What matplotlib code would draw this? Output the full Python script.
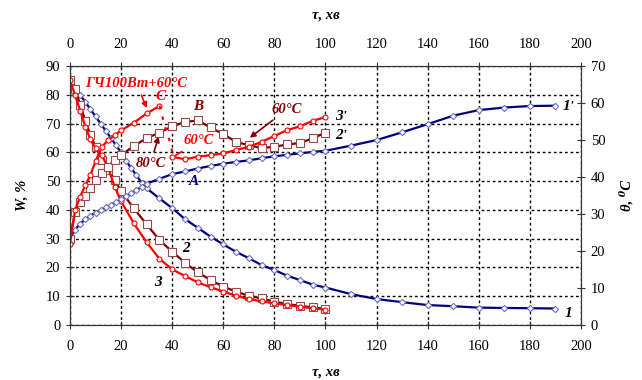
import matplotlib
matplotlib.use("Agg")
import matplotlib.pyplot as plt

plt.rcParams["font.family"] = ["Liberation Serif", "DejaVu Serif"]

# curve 1 - moisture W, %, and 1' - temperature, °C
t1 = [0, 2, 4, 6, 8, 10, 12, 14, 16, 18, 20, 22, 24, 26, 28, 30, 35, 40, 45, 50, 55, 60, 65, 70,
      75, 80, 85, 90, 95, 100, 110, 120, 130, 140, 150, 160, 170, 180, 190]
w1 = [85, 82.5, 80, 77.5, 75, 72.5, 70, 67.5, 65, 62.5, 60, 57, 54.5, 52, 49.5, 47.5, 44, 40.6, 36.8,
      33.8, 30.7, 28, 25.4, 23.2, 20.8, 19.1, 17.1, 15.6, 14, 13, 10.7, 9.0, 7.9, 6.9, 6.5, 6.0, 5.9,
      5.8, 5.7]
th1 = [23.5, 25.8, 27.3, 28.6, 29.5, 30.4, 31.1, 31.8, 32.5, 33.2, 34.0, 34.8, 35.6, 36.5, 37.3,
       38.2, 39.5, 40.8, 41.5, 42.3, 43.0, 43.6, 44.1, 44.5, 45.1, 45.6, 46.0, 46.4, 46.8, 47.1,
       48.5, 50.0, 52.1, 54.3, 56.6, 58.1, 58.8, 59.2, 59.3]

# curves 2 / 2' (80°C, then 60°C)
t2 = [0, 2, 4, 6, 8, 10, 12.5, 15, 17.5, 20, 25, 30, 35, 40, 45, 50, 55, 60, 65, 70, 75, 80, 85,
      90, 95, 100]
w2 = [85, 82, 76.5, 71, 66, 62, 57.5, 54, 50.5, 46.5, 40.5, 35, 29.5, 25.5, 21.6, 18.3, 15.6, 13.3,
      11.6, 10.1, 9.2, 8.1, 7.3, 6.6, 6.1, 5.6]
th2 = [23.3, 30.6, 33.3, 35.0, 36.9, 39.3, 41.2, 42.8, 44.6, 45.9, 48.4, 50.5, 52.0, 53.7, 54.9,
       55.3, 53.4, 51.6, 49.5, 48.6, 47.8, 48.2, 48.8, 49.2, 50.5, 52.0]

# curves 3 / 3' (IR 100 W + 60°C, then 60°C)
t3 = [0, 2, 4, 6, 8, 10, 12.5, 15, 17.5, 20, 25, 30, 35, 40, 45, 50, 55, 60, 65, 70, 75, 80, 85,
      90, 95, 100]
w3 = [85, 80, 74.5, 69, 64.5, 61.5, 59, 54.5, 48, 43, 35.3, 28.7, 23, 19.3, 17, 14.8, 13.1, 11.6,
      10.1, 9, 8.2, 7.5, 6.9, 6.3, 5.8, 5.3]
t3a = [0, 2, 4, 6, 8, 10, 12.5, 15, 17.5, 20, 25, 30, 35]
th3a = [21.8, 31.1, 34.7, 37.8, 40.5, 44.3, 48.2, 50.0, 51.3, 52.6, 54.7, 57.2, 59.2]
t3gap = [35, 35.9, 36.5, 38.9, 39.8, 40]
th3gap = [59.2, 58.1, 54.9, 50.0, 47.8, 45.5]
t3b = [40, 45, 50, 55, 60, 65, 70, 75, 80, 85, 90, 95, 100]
th3b = [45.5, 44.8, 45.5, 45.9, 46.4, 47.3, 48.2, 49.5, 51.1, 52.7, 53.7, 55.2, 56.2]

xticks = list(range(0, 201, 20))
wticks = list(range(0, 91, 10))
thticks = list(range(0, 71, 10))

navy = "#000080"
maroon = "#800000"
red = "#FF0000"

fig = plt.figure(figsize=(6.42, 3.8), dpi=100)
ax = fig.add_axes([0.109, 0.145, 0.796, 0.681])
ax2 = ax.twinx()

ax.set_xlim(0, 200)
ax.set_ylim(0, 90)
ax2.set_ylim(0, 70)
ax.set_xticks(xticks)
ax.set_yticks(wticks)
ax2.set_yticks(thticks)

# dashed grid from the W axis, kept under the curves
ax.set_axisbelow(True)
ax.xaxis.grid(True, color="black", linestyle=(0, (2, 2)), linewidth=1.0)
ax.yaxis.grid(True, color="black", linestyle=(0, (2, 2)), linewidth=1.0)

for a in (ax, ax2):
    a.tick_params(direction="inout", length=6, width=0.8, labelsize=10.5, color="#333333")
ax.tick_params(axis="x", top=True, labeltop=True, pad=8)
ax.tick_params(axis="y", pad=4)
ax2.tick_params(axis="y", pad=4)
for a in (ax, ax2):
    for s in a.spines.values():
        s.set_color("#333333")
        s.set_linewidth(0.8)

lk = dict(linewidth=1.6, markerfacecolor="white", markeredgewidth=0.8)
ax.plot(t1, w1, color=navy, marker="D", markersize=3.2, markeredgecolor="#7070c0", **lk)
ax2.plot(t1, th1, color=navy, marker="D", markersize=3.2, markeredgecolor="#7070c0", **lk)
ax.plot(t2, w2, color=maroon, marker="s", markersize=5.5, markeredgecolor="#9a4a4a", **lk)
ax2.plot(t2, th2, color=maroon, marker="s", markersize=5.5, markeredgecolor="#9a4a4a", **lk)
ax.plot(t3, w3, color=red, marker="o", markersize=3.6, markeredgecolor=red, **lk)
ax2.plot(t3a, th3a, color=red, marker="o", markersize=3.6, markeredgecolor=red, **lk)
ax2.plot(t3gap, th3gap, color=red, linewidth=1.6, linestyle=(0, (1.5, 3.5)))
ax2.plot(t3b, th3b, color=red, marker="o", markersize=3.6, markeredgecolor=red, **lk)

# axis titles
bi = dict(fontweight="bold", fontstyle="italic", fontsize=10.5)
ax.set_xlabel("τ, хв", labelpad=9, **bi)
fig.text(0.507, 0.96, "τ, хв", ha="center", va="center", **bi)
ax.set_ylabel("W, %", labelpad=12, **bi)
ax2.set_ylabel("θ, ⁰C", labelpad=10, **bi)

# curve labels
lab = dict(fontweight="bold", fontstyle="italic", fontsize=11)
ax.text(195, 4.1, "1", ha="center", va="center", color="black", **lab)
ax.text(195, 75.9, "1ʹ", ha="center", va="center", color="black", **lab)
ax.text(45.6, 26.6, "2", ha="center", va="center", color="black", **lab)
ax.text(34.6, 14.7, "3", ha="center", va="center", color="black", **lab)
ax.text(106, 66, "2ʹ", ha="center", va="center", color="black", **lab)
ax.text(106, 72.5, "3ʹ", ha="center", va="center", color="black", **lab)
ax.text(48.5, 49.8, "A", ha="center", va="center", color=navy, **lab)
ax.text(50, 76, "B", ha="center", va="center", color=maroon, **lab)
ax.text(35.3, 79.5, "C", ha="center", va="center", color=red, **lab)

# annotations
lab2 = dict(lab, fontsize=10.5)
ax.annotate("ГЧ100Вт+60°C", xy=(30.5, 74.5), xytext=(26, 84), ha="center", va="center",
            color=red, arrowprops=dict(arrowstyle="-|>", color=red, lw=1.2, mutation_scale=8), **lab2)
ax.annotate("60°C", xy=(69.5, 64.5), xytext=(85, 75), ha="center", va="center",
            color=maroon, arrowprops=dict(arrowstyle="-|>", color=maroon, lw=1.2, mutation_scale=8), **lab2)
ax.annotate("80°C", xy=(35, 66.5), xytext=(31.5, 56), ha="center", va="center",
            color=maroon, arrowprops=dict(arrowstyle="-|>", color=maroon, lw=1.2, mutation_scale=8), **lab2)
ax.annotate("60°C", xy=(40.5, 58.5), xytext=(50.5, 64), ha="center", va="center",
            color=red, arrowprops=dict(arrowstyle="-", color=red, lw=1.2, shrinkA=2), **lab2)

fig.savefig("out.png", dpi=100)
